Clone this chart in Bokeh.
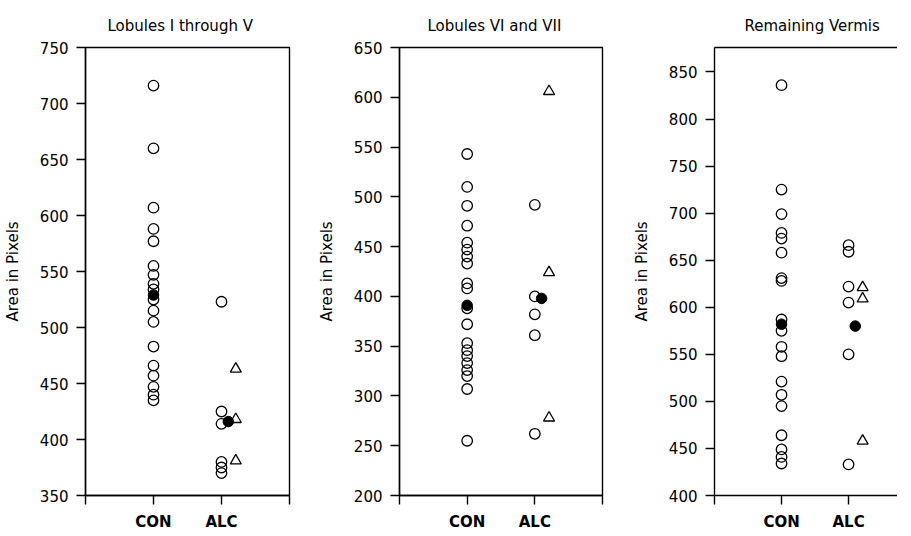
from bokeh.plotting import figure
from bokeh.layouts import row
from bokeh.models import FixedTicker, LinearAxis, Range1d
from bokeh.embed import file_html
from bokeh.resources import INLINE

# ---------------- data ----------------
groups = ["CON", "ALC"]
titles = ["Lobules I through V", "Lobules VI and VII", "Remaining Vermis"]
y_label = "Area in Pixels"

lob15_con = [716, 660, 607, 588, 577, 555, 547, 539, 534, 525, 515, 505,
             483, 466, 457, 447, 440, 435]
lob15_alc = [523, 425, 414, 380, 375, 370]
lob15_alc_tri = [463, 418, 381]
lob15_mean = [529, 416]          # CON, ALC
lob15_ticks = [350, 400, 450, 500, 550, 600, 650, 700, 750]

lob67_con = [543, 510, 491, 471, 454, 447, 440, 433, 413, 408, 388, 372,
             353, 346, 340, 333, 326, 320, 307, 255]
lob67_alc = [492, 400, 382, 361, 262]
lob67_alc_tri = [606, 424, 278]
lob67_mean = [391, 398]
lob67_ticks = [200, 250, 300, 350, 400, 450, 500, 550, 600, 650]

verm_con = [836, 725, 699, 679, 673, 658, 631, 628, 587, 575, 558, 548,
            521, 507, 495, 464, 449, 441, 434]
verm_alc = [666, 659, 622, 605, 550, 433]
verm_alc_tri = [621, 609, 458]
verm_mean = [582, 580]
verm_ticks = [400, 450, 500, 550, 600, 650, 700, 750, 800, 850]

# ---------------- styling / positions ----------------
POS = {"CON": 1, "ALC": 2}
TRI_SHIFT = 0.21
MEAN_SHIFT = 0.10
FONT = "DejaVu Sans"
LW = 1.4


def panel(title, con, alc, tri, mean, yr, yticks, xend, fw, bl, br,
          full_box, title_offset):
    p = figure(frame_width=fw, frame_height=448, output_backend="svg",
               toolbar_location=None, tools="",
               x_range=Range1d(0, xend), y_range=Range1d(*yr),
               min_border_left=bl, min_border_right=br,
               min_border_top=47, min_border_bottom=32,
               background_fill_color="white", border_fill_color="white")
    p.title.text = title
    p.title.align = "left"
    p.title.offset = title_offset
    p.title.standoff = 26
    p.title.text_font = FONT
    p.title.text_font_size = "15px"
    p.title.text_font_style = "normal"
    p.title.text_color = "black"

    p.xgrid.visible = False
    p.ygrid.visible = False

    for ax in (p.xaxis[0], p.yaxis[0]):
        ax.axis_line_width = LW
        ax.axis_line_color = "black"
        ax.major_tick_line_width = LW
        ax.major_tick_line_color = "black"
        ax.major_tick_in = 0
        ax.major_tick_out = 9
        ax.minor_tick_line_color = None
        ax.major_label_text_font = FONT
        ax.major_label_text_color = "black"

    xa = p.xaxis[0]
    xa.ticker = FixedTicker(ticks=[0, 1, 2, 3])
    xa.major_label_overrides = {0: "", 1: groups[0], 2: groups[1], 3: ""}
    xa.major_label_text_font_size = "15px"
    xa.major_label_text_font_style = "bold"
    xa.major_label_standoff = 8

    ya = p.yaxis[0]
    ya.ticker = FixedTicker(ticks=yticks)
    ya.major_label_text_font_size = "15px"
    ya.major_label_standoff = 8
    ya.axis_label = y_label
    ya.axis_label_text_font = FONT
    ya.axis_label_text_font_size = "15px"
    ya.axis_label_text_font_style = "normal"
    ya.axis_label_text_color = "black"
    ya.axis_label_standoff = 15

    if full_box:
        p.outline_line_color = "black"
        p.outline_line_width = LW
        p.outline_line_alpha = 1.0
    else:
        p.outline_line_color = None
        top = LinearAxis(ticker=FixedTicker(ticks=[]),
                         major_label_text_font_size="0px",
                         major_label_standoff=0, major_tick_out=0,
                         major_tick_in=0,
                         axis_line_width=LW, axis_line_color="black",
                         major_tick_line_color=None, minor_tick_line_color=None)
        p.add_layout(top, "above")

    p.scatter([POS["CON"]] * len(con), con, marker="circle", size=10.5,
              fill_color=None, line_color="black", line_width=1.3)
    p.scatter([POS["ALC"]] * len(alc), alc, marker="circle", size=10.5,
              fill_color=None, line_color="black", line_width=1.3)
    p.scatter([POS["ALC"] + TRI_SHIFT] * len(tri), tri, marker="triangle",
              size=11, fill_color=None, line_color="black", line_width=1.3)
    p.scatter([POS["CON"], POS["ALC"] + MEAN_SHIFT], mean, marker="circle",
              size=10.5, fill_color="black", line_color="black", line_width=1)
    return p


p1 = panel(titles[0], lob15_con, lob15_alc, lob15_alc_tri, lob15_mean,
           (350, 750), lob15_ticks, 3, 204, 83, 22, True, 22)
p2 = panel(titles[1], lob67_con, lob67_alc, lob67_alc_tri, lob67_mean,
           (200, 650), lob67_ticks, 3, 203, 88, 24, True, 28)
p3 = panel(titles[2], verm_con, verm_alc, verm_alc_tri, verm_mean,
           (400, 876), verm_ticks, 2.73, 183, 88, 0, False, 30)

layout = row(p1, p2, p3)
open("out.html", "w").write(file_html(layout, INLINE))
